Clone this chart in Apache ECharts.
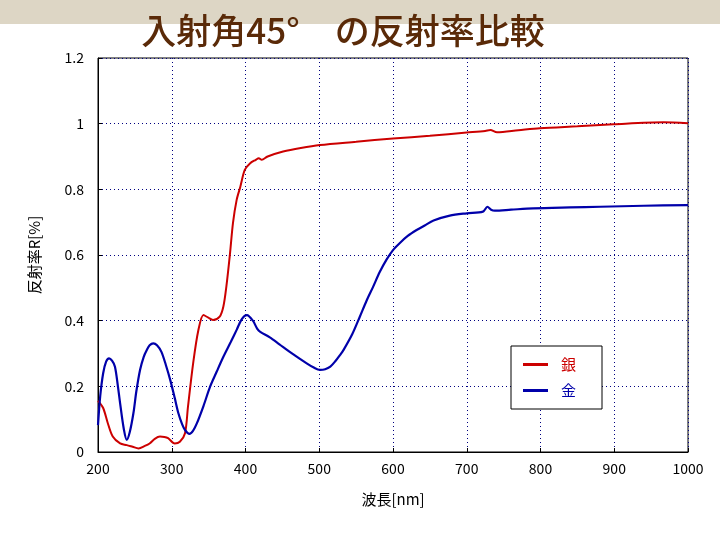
<!DOCTYPE html>
<html>
<head>
<meta charset="utf-8">
<script src="https://cdn.jsdelivr.net/npm/echarts@6/dist/echarts.min.js"></script>
<style>html,body{margin:0;padding:0;background:#fff;}#c{width:720px;height:540px;}</style>
</head>
<body>
<div id="c"></div>
<script>
const titleText = '入射角45°　の反射率比較';
const xAxisName = '波長[nm]';
const yAxisName = '反射率R[%]';
const seriesNames = ['銀', '金'];

const silverX = [200,207,213,220,230,239,247,255,263,270,277,284,290,295,304,311,318,322,329,336,343,349,356,365,370,374,379,383,388,393,399,406,414,418,422,430,451,475,501,550,600,650,700,725,732,741,770,799,850,899,967,1000];
const silverY = [0.156,0.134,0.09,0.047,0.026,0.021,0.016,0.011,0.018,0.026,0.04,0.047,0.046,0.042,0.026,0.031,0.057,0.138,0.27,0.37,0.417,0.41,0.402,0.412,0.443,0.503,0.605,0.697,0.768,0.808,0.859,0.879,0.89,0.895,0.89,0.9,0.915,0.926,0.935,0.945,0.955,0.963,0.973,0.978,0.981,0.974,0.98,0.986,0.992,0.998,1.004,1.001];

const goldX = [200,203,207,211,215,219,223,227,230,235,239,243,248,252,257,262,266,270,275,280,286,292,298,304,309,314,318,324,329,334,343,352,361,370,380,388,395,402,410,416,420,433,446,460,483,492,501,508,515,522,528,533,545,555,564,573,582,591,600,609,620,632,643,655,677,700,722,728,733,738,760,790,840,881,940,1000];
const goldY = [0.082,0.17,0.24,0.275,0.285,0.278,0.26,0.2,0.148,0.07,0.037,0.06,0.118,0.185,0.25,0.29,0.31,0.325,0.331,0.325,0.305,0.265,0.219,0.165,0.118,0.085,0.067,0.055,0.065,0.087,0.14,0.199,0.245,0.29,0.335,0.372,0.405,0.417,0.4,0.375,0.366,0.349,0.328,0.305,0.27,0.258,0.25,0.252,0.26,0.277,0.295,0.311,0.36,0.412,0.46,0.503,0.548,0.585,0.615,0.636,0.658,0.676,0.69,0.705,0.72,0.727,0.732,0.747,0.738,0.735,0.738,0.742,0.745,0.747,0.75,0.752];

const pair = (xs, ys) => xs.map((x, i) => [x, ys[i]]);
const font = '"Noto Sans CJK JP", sans-serif';
const gridLine = { show: true, lineStyle: { color: '#000080', type: [1, 3], width: 1 } };

const chart = echarts.init(document.getElementById('c'), null, { renderer: 'canvas' });
chart.setOption({
  animation: false,
  backgroundColor: '#fff',
  graphic: [{ type: 'rect', z: -10, shape: { x: 0, y: 0, width: 720, height: 24 }, style: { fill: '#ddd6c5' } }],
  title: {
    text: titleText, left: 338, top: 8, textAlign: 'center',
    textStyle: { fontFamily: font, fontSize: 35, fontWeight: 500, color: '#5a2a08' }
  },
  grid: { left: 98, right: 32, top: 58, bottom: 88, show: true, borderColor: '#000', borderWidth: 1, backgroundColor: 'transparent' },
  legend: {
    orient: 'vertical', left: 511, top: 346, width: 92,
    padding: [11, 26, 11, 12], itemGap: 11,
    borderColor: '#000', borderWidth: 1, backgroundColor: '#fff',
    itemWidth: 25, itemHeight: 3, icon: 'rect',
    textStyle: { fontFamily: font, fontSize: 15, padding: [0, 0, 0, 8] },
    data: [
      { name: seriesNames[0], textStyle: { color: '#cc0000' } },
      { name: seriesNames[1], textStyle: { color: '#0000aa' } }
    ]
  },
  xAxis: {
    type: 'value', min: 200, max: 1000, interval: 100,
    name: xAxisName, nameLocation: 'middle', nameGap: 40,
    nameTextStyle: { fontFamily: font, fontSize: 15, color: '#000' },
    axisLine: { show: true, lineStyle: { color: '#000' } },
    axisTick: { show: true, inside: true, length: 4, lineStyle: { color: '#000' } },
    axisLabel: { fontFamily: font, fontSize: 14, color: '#000', margin: 10, formatter: v => String(v) },
    splitLine: gridLine
  },
  yAxis: {
    type: 'value', min: 0, max: 1.2, interval: 0.2,
    name: yAxisName, nameLocation: 'middle', nameGap: 56, nameRotate: 90,
    nameTextStyle: { fontFamily: font, fontSize: 15, color: '#000' },
    axisLine: { show: true, lineStyle: { color: '#000' } },
    axisTick: { show: true, inside: true, length: 4, lineStyle: { color: '#000' } },
    axisLabel: { fontFamily: font, fontSize: 14, color: '#000', margin: 14 },
    splitLine: gridLine
  },
  series: [
    { name: seriesNames[0], type: 'line', data: pair(silverX, silverY), showSymbol: false, smooth: 0.3,
      lineStyle: { color: '#cc0000', width: 2 }, itemStyle: { color: '#cc0000' } },
    { name: seriesNames[1], type: 'line', data: pair(goldX, goldY), showSymbol: false, smooth: 0.3,
      lineStyle: { color: '#0000aa', width: 2.2 }, itemStyle: { color: '#0000aa' } }
  ]
});
</script>
</body>
</html>
